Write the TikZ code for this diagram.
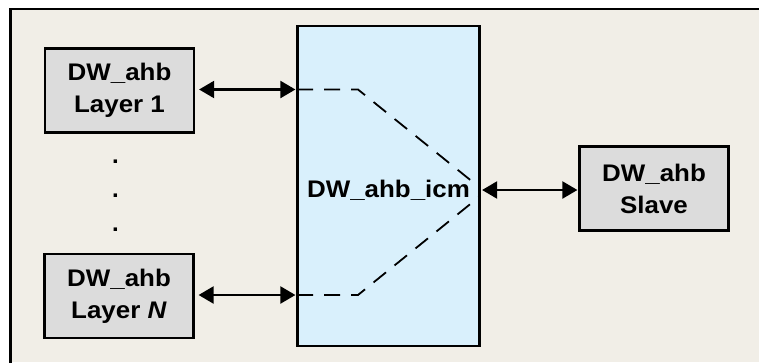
\documentclass[tikz,border=0pt]{standalone}
\usepackage{fontspec}
\usepackage{graphicx}
\setmainfont{Liberation Sans}
\usetikzlibrary{arrows.meta}

\definecolor{framefill}{HTML}{F1EEE7}
\definecolor{icmfill}{HTML}{D9F0FC}
\definecolor{blockfill}{HTML}{DCDCDC}

% slightly widened bold lettering
\newcommand{\wtxt}[1]{\scalebox{1.08}[1]{#1}}

\tikzset{
  lbl/.style={font=\fontsize{24}{32}\selectfont\bfseries, align=center, inner sep=0pt},
  block/.style={lbl, draw=black, line width=2.2pt, fill=blockfill, minimum width=149pt, minimum height=84pt},
  icmbox/.style={draw=black, line width=2.2pt, fill=icmfill, minimum width=182pt, minimum height=320pt, inner sep=0pt},
  bus/.style={line width=2.2pt, {Triangle[length=15pt,width=17pt]}-{Triangle[length=15pt,width=17pt]}},
  route/.style={line width=1.8pt, dash pattern=on 16pt off 11pt},
  dotmark/.style={font=\fontsize{24}{24}\selectfont\bfseries, inner sep=0pt, anchor=base},
}

\begin{document}
\begin{tikzpicture}[x=1pt, y=-1pt]
  \useasboundingbox (0,0) rectangle (759,362);

  % outer frame (only top and left edges fall inside the page)
  \fill[framefill] (10.5,9) rectangle (759,362);
  \draw[line width=2.5pt, line cap=rect] (10.5,362) -- (10.5,9) -- (759,9);

  % interconnect block and its label
  \node[icmbox] (icm) at (388.5,186) {};
  \node[lbl, anchor=base] (icmtext) at ([yshift=-11pt]icm.center) {\wtxt{DW\_ahb\_icm}};

  % layers and slave
  \node[block] (l1) at (119.5,90.5) {\wtxt{DW\_ahb}\\\wtxt{Layer 1}};
  \node[block] (ln) at (119,296) {\wtxt{DW\_ahb}\\\wtxt{Layer \textit{N}}};
  \node[block] (slave) at (654,188.5) {\wtxt{DW\_ahb}\\\wtxt{Slave}};

  % vertical ellipsis between the layers
  \node[dotmark] (d1) at (115.5,163.5) {.};
  \node[dotmark] (d2) at (115.5,197.5) {.};
  \node[dotmark] (d3) at (115.5,231.5) {.};

  % bidirectional buses
  \draw[bus, shorten <=4pt, shorten >=1pt] (l1.east |- 0,89.5) -- (icm.west |- 0,89.5);
  \draw[bus, shorten <=4pt, shorten >=1pt] (ln.east |- 0,295) -- (icm.west |- 0,295);
  \draw[bus, shorten <=1.5pt, shorten >=1pt] (icm.east |- 0,190) -- (slave.west |- 0,190);

  % internal routing paths
  \coordinate (t0) at (297,89.5);
  \coordinate (t1) at (358,89.5);
  \coordinate (t2) at (479,187);
  \coordinate (b0) at (297,295);
  \coordinate (b1) at (358,295);
  \coordinate (b2) at (479,197);
  \draw[route] (t0) -- (t1) -- (t2);
  \draw[route] (b0) -- (b1) -- (b2);
\end{tikzpicture}
\end{document}
